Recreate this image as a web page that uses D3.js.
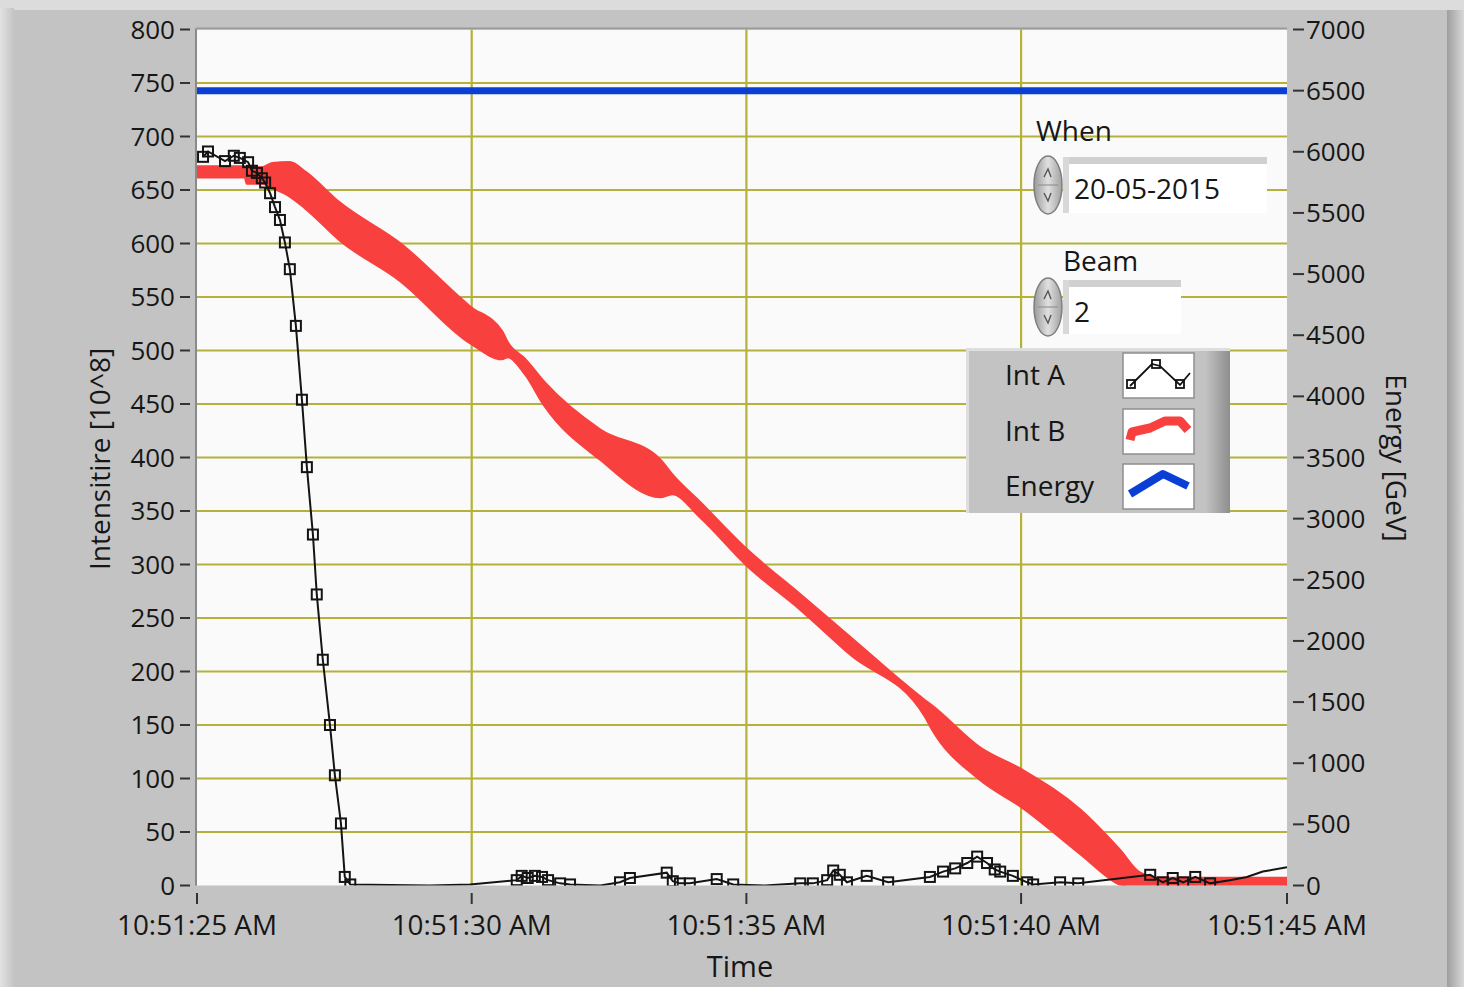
<!DOCTYPE html>
<html>
<head>
<meta charset="utf-8">
<script src="https://cdn.jsdelivr.net/npm/d3@7"></script>
<style>
  html, body { margin: 0; padding: 0; background: #d6d6d6; }
  svg { display: block; }
  text { font-family: "Open Sans", "Noto Sans", sans-serif; fill: #161616; }
</style>
</head>
<body>
<svg id="chart" width="1464" height="987"></svg>
<script>
// ---------------- DATA ----------------
const timeTickValues = [0, 5, 10, 15, 19.84];
const timeTickLabels = ["10:51:25 AM", "10:51:30 AM", "10:51:35 AM", "10:51:40 AM", "10:51:45 AM"];
const intensityTicks = [0, 50, 100, 150, 200, 250, 300, 350, 400, 450, 500, 550, 600, 650, 700, 750, 800];
const energyTicks = [0, 500, 1000, 1500, 2000, 2500, 3000, 3500, 4000, 4500, 5000, 5500, 6000, 6500, 7000];

// Int A (seconds after 10:51:25, intensity)
const intATime = [0.11, 0.20, 0.51, 0.67, 0.78, 0.93, 1.00, 1.09, 1.18, 1.24, 1.33, 1.42, 1.51, 1.60, 1.69, 1.80, 1.91, 2.00, 2.11, 2.18, 2.29, 2.42, 2.51, 2.62, 2.69, 2.79,
  4.24, 4.97, 5.82, 5.91, 6.02, 6.15, 6.28, 6.39, 6.61, 6.79, 7.34, 7.70, 7.88, 8.55, 8.66, 8.79, 8.97, 9.46, 9.76, 10.34,
  10.98, 11.21, 11.47, 11.58, 11.70, 11.83, 12.19, 12.58, 13.34, 13.58, 13.80, 14.02, 14.20, 14.38, 14.52, 14.62, 14.85, 15.11, 15.22,
  15.71, 16.04, 17.35, 17.58, 17.76, 17.95, 18.17, 18.44, 18.80, 19.11, 19.40, 19.84];
const intAValues = [681, 686, 677, 682, 680, 676, 668, 666, 661, 657, 647, 634, 622, 601, 576, 523, 454, 391, 328, 272, 211, 150, 103, 58, 8, 1,
  0, 1, 5, 9, 7, 9, 8, 5, 2, 1, 0, 3, 7, 12, 4, 2, 2, 6, 1, 0,
  2, 2, 5, 14, 10, 3, 9, 3, 8, 13, 16, 21, 27, 21, 15, 13, 9, 3, 1,
  3, 2, 10, 3, 7, 3, 8, 2, 5, 8, 13, 17];
const intAMarked = [1,1,1,1,1,1,1,1,1,1,1,1,1,1,1,1,1,1,1,1,1,1,1,1,1,1,
  0,0,1,1,1,1,1,1,1,1,0,1,1,1,1,1,1,1,1,0,
  1,1,1,1,1,1,1,1,1,1,1,1,1,1,1,1,1,1,1,
  1,1,1,1,1,1,1,1,0,0,0,0];

// Int B band (upper and lower envelope of the thick noisy trace)
const intBTime = [0, 0.87, 0.91, 1.18, 1.37, 1.69, 1.97, 2.60, 3.70, 4.97, 5.55, 5.66, 5.97, 6.33, 7.34, 8.43, 8.65, 9.16, 10.01, 10.98, 11.89, 13.25, 13.38, 14.25, 15.02, 16.07, 16.80, 17.16, 17.53, 19.84];
const intBHigh = [672, 672, 672, 671, 675, 676, 667, 638, 600, 541, 518, 507, 492, 470, 426, 398, 384, 358, 314, 272, 232, 173, 168, 129, 108, 71, 33, 12, 7, 7];
const intBLow  = [662, 662, 656, 656, 652, 644, 633, 603, 565, 507, 492, 494, 478, 448, 398, 363, 366, 344, 299, 258, 216, 158, 146, 99, 73, 30, 1, -4, -4, -4];

// Energy (GeV)
const energyTime = [0, 19.84];
const energyValues = [6500, 6500];

// Controls / legend
const whenValue = "20-05-2015";
const beamValue = "2";
const legendNames = ["Int A", "Int B", "Energy"];

// ---------------- DRAWING ----------------
const svg = d3.select("#chart");
const W = 1464, H = 987;
const plot = { left: 197, right: 1287, top: 29.5, bottom: 885.5 };

const defs = svg.append("defs");
const g1 = defs.append("linearGradient").attr("id", "rightEdge").attr("x1", 0).attr("x2", 1);
g1.append("stop").attr("offset", 0).attr("stop-color", "#9e9e9e");
g1.append("stop").attr("offset", 1).attr("stop-color", "#d8d8d8");
const g2 = defs.append("linearGradient").attr("id", "leftEdge").attr("x1", 0).attr("x2", 1);
g2.append("stop").attr("offset", 0).attr("stop-color", "#e2e2e2");
g2.append("stop").attr("offset", 1).attr("stop-color", "#c4c4c4");
const g3 = defs.append("linearGradient").attr("id", "spin").attr("x1", 0).attr("x2", 1);
g3.append("stop").attr("offset", 0).attr("stop-color", "#999999");
g3.append("stop").attr("offset", 0.5).attr("stop-color", "#e0e0e0");
g3.append("stop").attr("offset", 1).attr("stop-color", "#a0a0a0");
const g4 = defs.append("linearGradient").attr("id", "legEdge").attr("x1", 0).attr("x2", 1);
g4.append("stop").attr("offset", 0).attr("stop-color", "#c3c3c3");
g4.append("stop").attr("offset", 1).attr("stop-color", "#8e8e8e");
defs.append("clipPath").attr("id", "plotClip").append("rect")
  .attr("x", plot.left).attr("y", plot.top).attr("width", plot.right - plot.left).attr("height", plot.bottom - plot.top);

// background panel
svg.append("rect").attr("width", W).attr("height", H).attr("fill", "#dcdcdc");
svg.append("rect").attr("x", 0).attr("y", 8).attr("width", 14).attr("height", H - 8).attr("fill", "url(#leftEdge)");
svg.append("rect").attr("x", 14).attr("y", 10).attr("width", 1433).attr("height", H - 10).attr("fill", "#c3c3c3");
svg.append("rect").attr("x", 1447).attr("y", 10).attr("width", 17).attr("height", H - 10).attr("fill", "url(#rightEdge)");

// scales
const x = d3.scaleLinear().domain([0, 19.84]).range([plot.left, plot.right]);
const yI = d3.scaleLinear().domain([0, 800]).range([plot.bottom, plot.top]);
const yE = d3.scaleLinear().domain([0, 7000]).range([plot.bottom, plot.top]);

// plot background
svg.append("rect").attr("x", plot.left).attr("y", plot.top).attr("width", plot.right - plot.left)
  .attr("height", plot.bottom - plot.top).attr("fill", "#fafafa");

// grid
const gridColor = "#b4b23a";
svg.append("g").selectAll("line").data(intensityTicks.filter(d => d > 0 && d < 800)).join("line")
  .attr("x1", plot.left).attr("x2", plot.right).attr("y1", d => yI(d)).attr("y2", d => yI(d))
  .attr("stroke", gridColor).attr("stroke-width", 2.2);
svg.append("g").selectAll("line").data(timeTickValues.slice(1, 4)).join("line")
  .attr("x1", d => x(d)).attr("x2", d => x(d)).attr("y1", plot.top).attr("y2", plot.bottom)
  .attr("stroke", gridColor).attr("stroke-width", 2.2);

// plot frame (inset)
svg.append("line").attr("x1", plot.left - 1).attr("x2", plot.left - 1).attr("y1", plot.top - 1).attr("y2", plot.bottom)
  .attr("stroke", "#8a8a8a").attr("stroke-width", 2);
svg.append("line").attr("x1", plot.left - 1).attr("x2", plot.right).attr("y1", plot.top - 1).attr("y2", plot.top - 1)
  .attr("stroke", "#9a9a9a").attr("stroke-width", 2);

const plotG = svg.append("g").attr("clip-path", "url(#plotClip)");

// Int B band
const bandData = intBTime.map((t, i) => ({ t, hi: intBHigh[i], lo: intBLow[i] }));
plotG.append("path").datum(bandData)
  .attr("d", d3.area().curve(d3.curveMonotoneX).x(d => x(d.t)).y0(d => yI(d.lo)).y1(d => yI(d.hi)))
  .attr("fill", "#f8403e").attr("stroke", "#f8403e").attr("stroke-width", 2.5).attr("stroke-linejoin", "round");

// Energy line
const eData = energyTime.map((t, i) => ({ t, v: energyValues[i] }));
plotG.append("path").datum(eData)
  .attr("d", d3.line().x(d => x(d.t)).y(d => yE(d.v)))
  .attr("fill", "none").attr("stroke", "#0a3fd6").attr("stroke-width", 7);

// Int A line + markers
const aData = intATime.map((t, i) => ({ t, v: intAValues[i], m: intAMarked[i] }));
plotG.append("path").datum(aData)
  .attr("d", d3.line().x(d => x(d.t)).y(d => yI(d.v)))
  .attr("fill", "none").attr("stroke", "#141414").attr("stroke-width", 2);
plotG.append("g").selectAll("rect").data(aData.filter(d => d.m)).join("rect")
  .attr("x", d => x(d.t) - 5).attr("y", d => yI(d.v) - 5).attr("width", 10).attr("height", 10)
  .attr("fill", "none").attr("stroke", "#141414").attr("stroke-width", 2);

// Left axis
const leftAx = svg.append("g");
leftAx.selectAll("line").data(intensityTicks).join("line")
  .attr("x1", 180).attr("x2", 190).attr("y1", d => yI(d)).attr("y2", d => yI(d))
  .attr("stroke", "#333").attr("stroke-width", 2);
leftAx.selectAll("text").data(intensityTicks).join("text")
  .attr("x", 175).attr("y", d => yI(d)).attr("dy", "0.35em").attr("text-anchor", "end")
  .attr("font-size", 26).text(d => d);

// Right axis
const rightAx = svg.append("g");
rightAx.selectAll("line").data(energyTicks).join("line")
  .attr("x1", 1293).attr("x2", 1304).attr("y1", d => yE(d)).attr("y2", d => yE(d))
  .attr("stroke", "#333").attr("stroke-width", 2);
rightAx.selectAll("text").data(energyTicks).join("text")
  .attr("x", 1306).attr("y", d => yE(d)).attr("dy", "0.35em").attr("text-anchor", "start")
  .attr("font-size", 26).text(d => d);

// Bottom axis
const botAx = svg.append("g");
botAx.selectAll("line").data(timeTickValues).join("line")
  .attr("x1", d => x(d)).attr("x2", d => x(d)).attr("y1", 893).attr("y2", 904)
  .attr("stroke", "#333").attr("stroke-width", 2);
botAx.selectAll("text").data(timeTickValues).join("text")
  .attr("x", d => x(d)).attr("y", 935).attr("text-anchor", "middle")
  .attr("font-size", 28).attr("textLength", 160).attr("lengthAdjust", "spacingAndGlyphs")
  .text((d, i) => timeTickLabels[i]);

// Axis titles
svg.append("text").attr("transform", "translate(110,459) rotate(-90)").attr("text-anchor", "middle")
  .attr("font-size", 28).text("Intensitire [10^8]");
svg.append("text").attr("transform", "translate(1386,458) rotate(90)").attr("text-anchor", "middle")
  .attr("font-size", 28).text("Energy [GeV]");
svg.append("text").attr("x", 740).attr("y", 977).attr("text-anchor", "middle")
  .attr("font-size", 29).text("Time");

// Controls
function spinner(cx, cy) {
  const gs = svg.append("g");
  gs.append("ellipse").attr("cx", cx).attr("cy", cy).attr("rx", 14).attr("ry", 29)
    .attr("fill", "url(#spin)").attr("stroke", "#7e7e7e").attr("stroke-width", 1.5);
  gs.append("path").attr("d", `M${cx - 4},${cy - 8} L${cx},${cy - 16} L${cx + 3},${cy - 8}`)
    .attr("fill", "none").attr("stroke", "#555").attr("stroke-width", 1.4);
  gs.append("path").attr("d", `M${cx - 4},${cy + 8} L${cx},${cy + 16} L${cx + 3},${cy + 8}`)
    .attr("fill", "none").attr("stroke", "#555").attr("stroke-width", 1.4);
  gs.append("line").attr("x1", cx - 10).attr("x2", cx + 10).attr("y1", cy).attr("y2", cy)
    .attr("stroke", "#888").attr("stroke-width", 1);
}
// When
svg.append("text").attr("x", 1036).attr("y", 141).attr("font-size", 28).text("When");
svg.append("rect").attr("x", 1063).attr("y", 157).attr("width", 204).attr("height", 56).attr("fill", "#ffffff");
svg.append("rect").attr("x", 1063).attr("y", 157).attr("width", 204).attr("height", 7).attr("fill", "#d0d0d0");
svg.append("rect").attr("x", 1063).attr("y", 157).attr("width", 6).attr("height", 56).attr("fill", "#d8d8d8");
spinner(1048, 185);
svg.append("text").attr("x", 1074).attr("y", 199).attr("font-size", 28).text(whenValue);
// Beam
svg.append("text").attr("x", 1063).attr("y", 271).attr("font-size", 28).text("Beam");
svg.append("rect").attr("x", 1063).attr("y", 280).attr("width", 118).attr("height", 54).attr("fill", "#ffffff");
svg.append("rect").attr("x", 1063).attr("y", 280).attr("width", 118).attr("height", 7).attr("fill", "#d0d0d0");
svg.append("rect").attr("x", 1063).attr("y", 280).attr("width", 6).attr("height", 54).attr("fill", "#d8d8d8");
spinner(1048, 307);
svg.append("text").attr("x", 1074).attr("y", 322).attr("font-size", 28).text(beamValue);

// Legend
const leg = svg.append("g");
leg.append("rect").attr("x", 966).attr("y", 348).attr("width", 264).attr("height", 165).attr("fill", "#c3c3c3");
leg.append("rect").attr("x", 1205).attr("y", 348).attr("width", 25).attr("height", 165).attr("fill", "url(#legEdge)");
leg.append("rect").attr("x", 966).attr("y", 348).attr("width", 264).attr("height", 3).attr("fill", "#dedede");
leg.append("rect").attr("x", 966).attr("y", 348).attr("width", 3).attr("height", 165).attr("fill", "#dedede");
const legRowY = [375, 431, 486];
legendNames.forEach((name, i) => {
  const cy = legRowY[i];
  leg.append("text").attr("x", 1005).attr("y", cy).attr("dy", "0.35em").attr("font-size", 28).text(name);
  leg.append("rect").attr("x", 1123).attr("y", cy - 22).attr("width", 71).attr("height", 45)
    .attr("fill", "#ffffff").attr("stroke", "#8f8f8f").attr("stroke-width", 1.5);
});
// swatch: Int A
const swA = [[1130, 386], [1152, 364], [1160, 366], [1180, 385], [1190, 373]];
leg.append("path").attr("d", d3.line()(swA)).attr("fill", "none").attr("stroke", "#111").attr("stroke-width", 1.8);
[[1131, 384], [1156, 364], [1180, 384]].forEach(p => {
  leg.append("rect").attr("x", p[0] - 4).attr("y", p[1] - 4).attr("width", 8).attr("height", 8)
    .attr("fill", "none").attr("stroke", "#111").attr("stroke-width", 1.8);
});
// swatch: Int B
const swB = [[1130, 440], [1132, 432], [1150, 428], [1165, 421], [1180, 421], [1188, 430]];
leg.append("path").attr("d", d3.line()(swB)).attr("fill", "none").attr("stroke", "#f8403e").attr("stroke-width", 9)
  .attr("stroke-linejoin", "round");
// swatch: Energy
const swE = [[1130, 494], [1163, 474], [1188, 486]];
leg.append("path").attr("d", d3.line()(swE)).attr("fill", "none").attr("stroke", "#0a3fd6").attr("stroke-width", 8)
  .attr("stroke-linejoin", "round");
</script>
</body>
</html>
